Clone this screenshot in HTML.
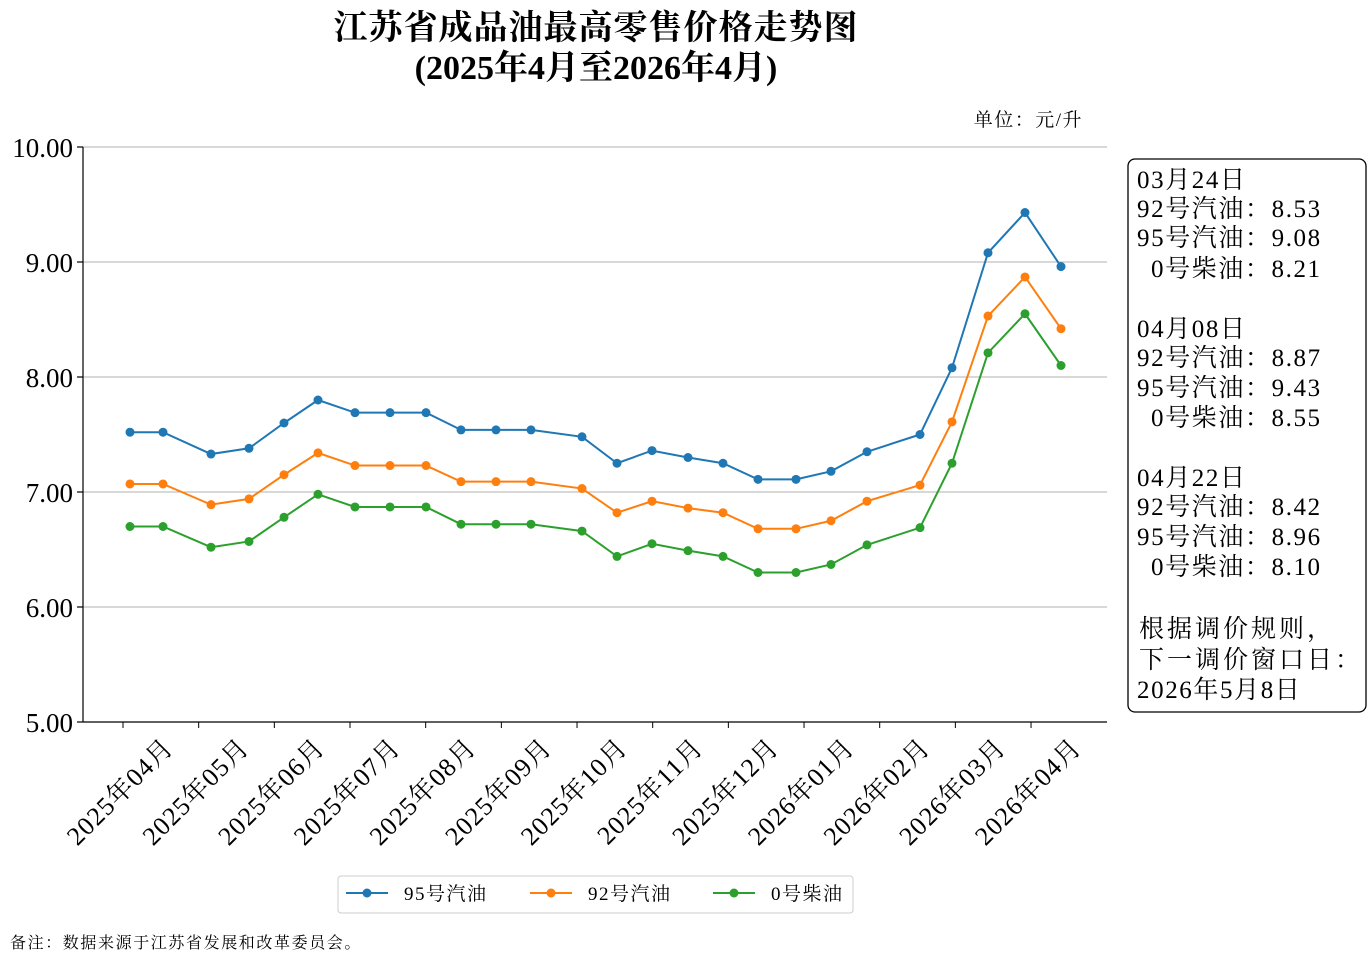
<!DOCTYPE html>
<html><head><meta charset="utf-8"><style>
body{margin:0;background:#fff}
text{font-family:"Liberation Serif","Noto Serif CJK SC",serif}
</style></head><body>
<svg width="1368" height="973" viewBox="0 0 1368 973" xmlns="http://www.w3.org/2000/svg">
<rect width="1368" height="973" fill="#fff"/>
<text x="596" y="39" font-size="34" font-weight="bold" text-anchor="middle" letter-spacing="1">江苏省成品油最高零售价格走势图</text>
<text x="596" y="79" font-size="34" font-weight="bold" text-anchor="middle">(2025年4月至2026年4月)</text>
<text x="1083" y="126" font-size="19" text-anchor="end" letter-spacing="1.5">单位：元/升</text>
<g stroke="#b0b0b0" stroke-width="1">
<line x1="83" y1="147" x2="1107" y2="147"/><line x1="83" y1="262" x2="1107" y2="262"/>
<line x1="83" y1="377" x2="1107" y2="377"/><line x1="83" y1="492" x2="1107" y2="492"/>
<line x1="83" y1="607" x2="1107" y2="607"/>
</g>
<g stroke="#000" stroke-width="1.2">
<line x1="83" y1="147" x2="83" y2="722"/><line x1="83" y1="722" x2="1107" y2="722"/>
<line x1="77" y1="147" x2="83" y2="147"/><line x1="77" y1="262" x2="83" y2="262"/><line x1="77" y1="377" x2="83" y2="377"/><line x1="77" y1="492" x2="83" y2="492"/><line x1="77" y1="607" x2="83" y2="607"/><line x1="77" y1="722" x2="83" y2="722"/>
</g>
<g font-size="27" text-anchor="end">
<text x="73" y="157">10.00</text><text x="73" y="272">9.00</text><text x="73" y="387">8.00</text><text x="73" y="502">7.00</text><text x="73" y="617">6.00</text><text x="73" y="732">5.00</text>
</g>
<g id="xt" font-size="26" text-anchor="end"></g>
<g id="plot"></g>
<rect x="1128" y="159" width="238" height="553" rx="7" fill="#fff" stroke="#000" stroke-width="1.3"/>
<g font-size="25" letter-spacing="1.6">
<text x="1137" y="188">03月24日</text><text x="1137" y="217">92号汽油：8.53</text><text x="1137" y="246">95号汽油：9.08</text><text x="1151" y="277">0号柴油：8.21</text>
<text x="1137" y="337">04月08日</text><text x="1137" y="366">92号汽油：8.87</text><text x="1137" y="396">95号汽油：9.43</text><text x="1151" y="426">0号柴油：8.55</text>
<text x="1137" y="486">04月22日</text><text x="1137" y="515">92号汽油：8.42</text><text x="1137" y="545">95号汽油：8.96</text><text x="1151" y="575">0号柴油：8.10</text>
<text x="1139" y="637" letter-spacing="3">根据调价规则，</text><text x="1139" y="668" letter-spacing="3">下一调价窗口日：</text><text x="1137" y="698">2026年5月8日</text>
</g>
<rect x="338" y="876" width="515" height="37" rx="3" fill="#fff" stroke="#ccc"/>
<g font-size="19" letter-spacing="1.5">
<line x1="346" y1="893" x2="388" y2="893" stroke="#1f77b4" stroke-width="2"/><circle cx="367" cy="893" r="4.5" fill="#1f77b4"/><text x="404" y="900">95号汽油</text>
<line x1="530" y1="893" x2="572" y2="893" stroke="#ff7f0e" stroke-width="2"/><circle cx="551" cy="893" r="4.5" fill="#ff7f0e"/><text x="588" y="900">92号汽油</text>
<line x1="713" y1="893" x2="755" y2="893" stroke="#2ca02c" stroke-width="2"/><circle cx="734" cy="893" r="4.5" fill="#2ca02c"/><text x="771" y="900">0号柴油</text>
</g>
<text x="10" y="948" font-size="16" letter-spacing="1.6">备注：数据来源于江苏省发展和改革委员会。</text>
</svg>
<script>
var ns="http://www.w3.org/2000/svg";
var xs=[130,163,211,249,284,318,355,390,426,461,496,531,582,617,652,688,723,758,796,831,867,920,952,988,1025,1061];
var S=[["#1f77b4",[7.52,7.52,7.33,7.38,7.60,7.80,7.69,7.69,7.69,7.54,7.54,7.54,7.48,7.25,7.36,7.30,7.25,7.11,7.11,7.18,7.35,7.50,8.08,9.08,9.43,8.96]],
["#ff7f0e",[7.07,7.07,6.89,6.94,7.15,7.34,7.23,7.23,7.23,7.09,7.09,7.09,7.03,6.82,6.92,6.86,6.82,6.68,6.68,6.75,6.92,7.06,7.61,8.53,8.87,8.42]],
["#2ca02c",[6.70,6.70,6.52,6.57,6.78,6.98,6.87,6.87,6.87,6.72,6.72,6.72,6.66,6.44,6.55,6.49,6.44,6.30,6.30,6.37,6.54,6.69,7.25,8.21,8.55,8.10]]];
var g=document.getElementById("plot");
S.forEach(function(s){var p="";s[1].forEach(function(v,i){p+=xs[i]+","+(722-(v-5)*115)+" ";});
var pl=document.createElementNS(ns,"polyline");pl.setAttribute("points",p);pl.setAttribute("fill","none");pl.setAttribute("stroke",s[0]);pl.setAttribute("stroke-width","2");g.appendChild(pl);
s[1].forEach(function(v,i){var c=document.createElementNS(ns,"circle");c.setAttribute("cx",xs[i]);c.setAttribute("cy",722-(v-5)*115);c.setAttribute("r","4.5");c.setAttribute("fill",s[0]);g.appendChild(c);});});
var labs=["2025年04月","2025年05月","2025年06月","2025年07月","2025年08月","2025年09月","2025年10月","2025年11月","2025年12月","2026年01月","2026年02月","2026年03月","2026年04月"];
var xt=document.getElementById("xt");
labs.forEach(function(l,i){var x=123+i*75.67;
var ln=document.createElementNS(ns,"line");ln.setAttribute("x1",x);ln.setAttribute("x2",x);ln.setAttribute("y1",722);ln.setAttribute("y2",728);ln.setAttribute("stroke","#000");xt.appendChild(ln);
var t=document.createElementNS(ns,"text");t.setAttribute("transform","translate("+(x+52)+",749) rotate(-45)");t.setAttribute("letter-spacing","1");t.textContent=l;xt.appendChild(t);});
</script>
</body></html>
